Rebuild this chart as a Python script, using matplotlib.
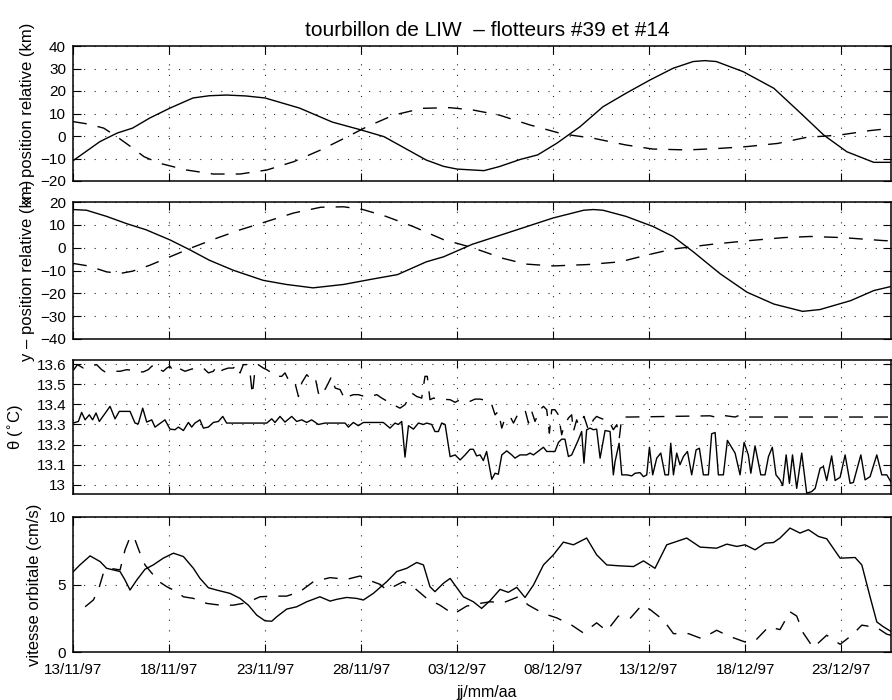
import matplotlib
matplotlib.use('Agg')
import matplotlib.pyplot as plt

plt.rcParams['font.family'] = ['Liberation Sans', 'DejaVu Sans']

# ---- data (days since 13/11/97) ----
date_ticks = [0, 5, 10, 15, 20, 25, 30, 35, 40]
date_labels = ['13/11/97', '18/11/97', '23/11/97', '28/11/97', '03/12/97',
               '08/12/97', '13/12/97', '18/12/97', '23/12/97']

# x relative position (km)
t_x39 = [0, 1.4, 2.3, 3.1, 4.0, 5.05, 6.25, 7.1, 8.0, 9.0, 10, 11.8, 13.5, 15, 16.2, 18.4,
         19.3, 20, 21.4, 22.2, 23.3, 24.2, 25.2, 26.4, 27.6, 28.8, 30.05, 31.25, 32.3, 32.9,
         33.5, 34.9, 36.5, 37.9, 39.1, 40.3, 41.7, 42.6]
x39 = [-11, -2.5, 1.3, 3.5, 8, 12.4, 16.9, 17.9, 18.2, 17.8, 16.9, 12.4, 6.2, 2.7, -0.3,
       -10.7, -13.5, -14.7, -15.4, -13.6, -10.4, -8.4, -3.2, 4.1, 13, 19, 24.9, 30.1, 33.1,
       33.5, 33.1, 28.6, 21.2, 10.1, 0.4, -7, -11.7, -11.7]
t_x14 = [0, 0.8, 1.6, 2.3, 3.0, 3.7, 4.5, 5.9, 7.3, 8.7, 10.1, 11.5, 12.9, 14.3, 15.3, 16.7,
         18.2, 19.6, 20.8, 22.2, 23.8, 25.5, 27.1, 28.8, 30.2, 32, 33.5, 35.1, 36.7, 38.2,
         39.9, 41.5, 42.6]
x14 = [6.4, 5.3, 3.5, -0.4, -4.7, -9.2, -12.1, -15.1, -16.9, -16.9, -15.1, -11.4, -6.2, -0.3,
       4.1, 9.3, 12.3, 12.6, 11.6, 9.3, 4.9, 0.9, -1, -4, -5.8, -6.2, -5.6, -4.7, -3.3, -0.6,
       0.4, 2.4, 3.4]

# y relative position (km)
t_y39 = [0, 0.7, 1.75, 2.8, 3.8, 5.05, 6.1, 7.1, 8.35, 9.9, 11.1, 12.5, 14.1, 15.5, 16.9,
         18.4, 19.3, 20.8, 22.6, 23.4, 25, 26.6, 27.1, 27.6, 28.8, 30.2, 31.25, 32.3, 33.7,
         35.1, 36.5, 38, 38.9, 40.5, 41.7, 42.6]
y39 = [16.7, 16.4, 13.7, 10.5, 7.85, 3.4, -1, -5.5, -9.9, -14.3, -16.1, -17.6, -16.1, -13.9,
       -11.8, -6.2, -4, 1.5, 6.4, 8.6, 13, 16.4, 16.7, 16.4, 13.7, 9.3, 4.9, -1.8, -11.4,
       -19.5, -24.7, -27.9, -27.1, -23.2, -18.8, -17]
t_y14 = [0, 0.8, 1.75, 2.45, 3.1, 4.0, 5.05, 6.25, 7.5, 8.7, 10.1, 11.5, 12.9, 14.1, 15.1,
         16.3, 17.7, 19.3, 20.0, 20.8, 22.4, 23.6, 25, 26.8, 28.5, 29.9, 31.25, 33.3, 35.1,
         37, 38.4, 40.1, 42.2, 42.6]
y14 = [-6.9, -8, -10.6, -11.3, -10.3, -7.7, -4, 0.2, 4.2, 7.8, 11.5, 15.2, 17.7, 17.9, 16.7,
       13.7, 9.3, 3.5, 1.9, 0, -4.7, -7.2, -8, -7.4, -6.2, -3.2, -0.6, 1.5, 3, 4.4, 4.9, 4.4,
       3.1, 3]

# potential temperature (deg C)
t_th39 = [0.0, 0.28, 0.45, 0.63, 0.85, 1.02, 1.20, 1.37, 1.93, 2.19, 2.41, 2.97, 3.23, 3.40,
          3.63, 3.84, 4.10, 4.27, 4.79, 5.05, 5.31, 5.49, 5.75, 6.01, 6.18, 6.35, 6.61, 6.79,
          7.05, 7.31, 7.57, 7.80, 8.00, 10.09, 10.35, 10.52, 10.78, 11.04, 11.39, 11.65,
          11.91, 12.17, 12.43, 12.60, 12.78, 13.12, 14.17, 14.34, 14.60, 14.86, 15.12,
          16.16, 16.51, 16.77, 16.94, 17.12, 17.29, 17.47, 17.73, 17.99, 18.25, 18.42,
          18.68, 18.85, 19.03, 19.20, 19.38, 19.64, 19.90, 20.16, 20.42, 20.68, 20.85,
          21.02, 21.20, 21.37, 21.54, 21.81, 21.98, 22.15, 22.33, 22.59, 22.85, 23.02,
          23.28, 23.63, 23.80, 23.98, 24.32, 24.5, 24.67, 25.1, 25.28, 25.45, 25.62, 25.8,
          25.97, 26.32, 26.49, 26.61, 26.75, 26.93, 27.1, 27.27, 27.45, 27.71, 27.97, 28.14,
          28.23, 28.44, 28.58, 28.84, 29.1, 29.27, 29.53, 29.71, 29.88, 30.02, 30.19, 30.40,
          30.61, 30.83, 31.01, 31.13, 31.27, 31.44, 31.61, 31.79, 32.0, 32.22, 32.45, 32.62,
          32.83, 33.09, 33.26, 33.44, 33.61, 33.87, 34.08, 34.48, 34.74, 34.95, 35.17, 35.3,
          35.52, 35.82, 36.04, 36.22, 36.42, 36.61, 36.82, 36.96, 37.14, 37.31, 37.47, 37.69,
          37.95, 38.21, 38.47, 38.65, 38.91, 39.08, 39.25, 39.51, 39.69, 39.95, 40.21, 40.47,
          40.64, 41.03, 41.25, 41.51, 41.86, 42.12, 42.38, 42.64]
th39 = [13.307, 13.315, 13.36, 13.323, 13.348, 13.323, 13.357, 13.315, 13.39, 13.328, 13.365,
        13.365, 13.307, 13.303, 13.381, 13.312, 13.323, 13.287, 13.323, 13.277, 13.274,
        13.287, 13.27, 13.31, 13.287, 13.307, 13.323, 13.282, 13.287, 13.31, 13.315, 13.34,
        13.307, 13.307, 13.328, 13.31, 13.34, 13.312, 13.34, 13.315, 13.323, 13.31, 13.323,
        13.312, 13.3, 13.307, 13.307, 13.287, 13.31, 13.294, 13.31, 13.31, 13.282, 13.307,
        13.3, 13.315, 13.138, 13.294, 13.277, 13.307, 13.3, 13.307, 13.3, 13.265, 13.265,
        13.307, 13.3, 13.14, 13.149, 13.124, 13.149, 13.177, 13.177, 13.144, 13.149, 13.121,
        13.166, 13.028, 13.058, 13.053, 13.149, 13.169, 13.149, 13.133, 13.149, 13.149,
        13.158, 13.149, 13.174, 13.187, 13.166, 13.166, 13.211, 13.227, 13.227, 13.141,
        13.149, 13.224, 13.265, 13.108, 13.274, 13.282, 13.274, 13.277, 13.133, 13.27,
        13.265, 13.05, 13.116, 13.207, 13.05, 13.05, 13.045, 13.058, 13.061, 13.041, 13.05,
        13.187, 13.05, 13.133, 13.158, 13.05, 13.05, 13.207, 13.05, 13.158, 13.1, 13.141,
        13.166, 13.05, 13.174, 13.182, 13.05, 13.05, 13.254, 13.26, 13.05, 13.05, 13.221,
        13.158, 13.05, 13.211, 13.149, 13.058, 13.194, 13.05, 13.05, 13.141, 13.187, 13.05,
        13.025, 12.997, 13.149, 13.008, 13.149, 12.983, 13.158, 12.959, 12.967, 12.983,
        13.083, 13.091, 13.022, 13.144, 13.022, 13.038, 13.149, 13.008, 13.012, 13.149,
        13.025, 13.041, 13.149, 13.05, 13.05, 13.008]
t_th14 = [0.02, 0.23, 0.54, 0.89, 1.23, 1.49, 1.67, 1.93, 2.19, 2.45, 2.80, 3.06, 3.40, 3.66,
          3.92, 4.10, 4.36, 4.53, 4.70, 4.88, 5.05, 5.23, 5.49, 5.66, 5.83, 6.18, 6.44, 6.79,
          7.05, 7.31, 7.48, 7.66, 7.83, 8.09, 8.35, 8.52, 8.70, 8.87, 9.05, 9.22, 9.34, 9.48,
          9.65, 9.91, 10.09, 10.35, 10.52, 10.69, 10.87, 11.04, 11.30, 11.56, 11.74, 11.91,
          12.17, 12.34, 12.60, 12.78, 12.95, 13.12, 13.30, 13.47, 13.65, 13.91, 14.17, 14.34,
          14.60, 14.86, 15.30, 15.47, 15.82, 16.08, 16.68, 17.03, 17.29, 17.64, 17.90, 18.16,
          18.33, 18.45, 18.59, 18.77, 19.11, 19.64, 19.90, 20.16, 20.68, 20.94, 21.20, 21.72,
          21.81, 21.98, 22.15, 22.33, 22.50, 22.76, 22.94, 23.11, 23.37, 23.54, 23.72, 23.89,
          24.06, 24.32, 24.5, 24.67, 24.81, 24.93, 25.10, 25.28, 25.45, 25.54, 25.80, 25.97,
          26.06, 26.23, 26.32, 26.41, 26.61, 26.84, 27.10, 27.27, 27.45, 27.71, 27.88, 28.14,
          28.32, 28.45, 28.58, 29.01, 33.18, 33.44, 33.70, 34.48, 34.74, 35.0, 42.64]
th14 = [13.569, 13.597, 13.58, 13.589, 13.597, 13.572, 13.561, 13.564, 13.564, 13.564,
        13.572, 13.569, 13.561, 13.561, 13.572, 13.589, 13.597, 13.572, 13.564, 13.58,
        13.589, 13.564, 13.58, 13.572, 13.564, 13.575, 13.58, 13.58, 13.556, 13.564, 13.589,
        13.564, 13.572, 13.58, 13.58, 13.597, 13.556, 13.597, 13.597, 13.556, 13.448, 13.572,
        13.597, 13.58, 13.572, 13.556, 13.556, 13.539, 13.539, 13.556, 13.506, 13.506,
        13.439, 13.506, 13.547, 13.531, 13.539, 13.456, 13.439, 13.473, 13.506, 13.539,
        13.481, 13.473, 13.423, 13.439, 13.448, 13.448, 13.436, 13.439, 13.448, 13.431,
        13.398, 13.381, 13.398, 13.456, 13.439, 13.431, 13.539, 13.539, 13.423, 13.431,
        13.426, 13.423, 13.41, 13.423, 13.415, 13.426, 13.426, 13.415, 13.398, 13.348,
        13.365, 13.282, 13.332, 13.34, 13.307, 13.34, 13.365, 13.373, 13.307, 13.365, 13.315,
        13.373, 13.39, 13.373, 13.257, 13.373, 13.373, 13.348, 13.249, 13.282, 13.332,
        13.348, 13.265, 13.323, 13.299, 13.299, 13.34, 13.274, 13.323, 13.34, 13.332, 13.323,
        13.323, 13.274, 13.299, 13.232, 13.337, 13.337, 13.343, 13.337, 13.347, 13.337,
        13.347, 13.337, 13.337]

# orbital velocity (cm/s)
t_v39 = [0.02, 0.36, 0.89, 1.41, 1.75, 2.10, 2.45, 2.71, 2.97, 3.32, 3.75, 4.18, 4.70, 5.23,
         5.75, 6.27, 6.61, 7.05, 7.48, 8.18, 8.70, 9.13, 9.57, 10.0, 10.35, 10.61, 11.13,
         11.65, 12.17, 12.86, 13.39, 13.73, 14.25, 14.77, 15.12, 15.64, 16.34, 16.86, 17.38,
         17.90, 18.25, 18.59, 18.85, 19.29, 19.64, 20.33, 20.85, 21.28, 21.72, 22.24, 22.67,
         23.11, 23.54, 23.98, 24.5, 25.02, 25.54, 26.06, 26.75, 27.27, 27.80, 28.49, 29.19,
         29.71, 30.31, 30.92, 31.96, 32.66, 33.52, 34.05, 34.57, 35.0, 35.52, 36.04, 36.48,
         36.82, 37.34, 37.86, 38.30, 38.82, 39.25, 39.95, 40.73, 41.08, 41.51, 41.86, 42.21,
         42.64]
v39 = [5.96, 6.45, 7.12, 6.70, 6.20, 6.08, 5.96, 5.33, 4.59, 5.33, 6.13, 6.45, 6.95, 7.32,
       7.07, 6.20, 5.46, 4.76, 4.59, 4.34, 3.97, 3.47, 2.73, 2.31, 2.28, 2.61, 3.18, 3.35,
       3.72, 4.09, 3.77, 3.90, 4.04, 3.97, 3.85, 4.34, 5.21, 5.96, 6.20, 6.63, 6.45, 4.84,
       4.47, 5.09, 5.45, 4.09, 3.72, 3.23, 3.80, 4.64, 4.42, 4.79, 4.04, 4.96, 6.45, 7.20,
       8.14, 7.94, 8.44, 7.20, 6.45, 6.38, 6.33, 6.75, 6.20, 7.94, 8.44, 7.77, 7.69, 7.99,
       7.82, 7.94, 7.57, 8.06, 8.11, 8.44, 9.18, 8.81, 9.06, 8.56, 8.39, 6.95, 7.00, 6.45,
       4.09, 2.23, 1.86, 1.49]
t_v14 = [0.63, 1.06, 1.32, 1.58, 1.93, 2.45, 2.71, 3.00, 3.23, 3.49, 3.75, 4.18, 4.36, 4.88,
         5.40, 5.75, 6.27, 6.96, 7.66, 8.35, 9.05, 9.74, 10.43, 11.13, 11.82, 12.52, 13.39,
         14.25, 14.95, 15.47, 15.99, 16.34, 17.20, 17.81, 18.42, 19.11, 19.81, 20.50, 21.20,
         21.72, 22.41, 23.19, 23.72, 24.50, 25.19, 25.97, 26.58, 27.27, 27.80, 28.40, 29.01,
         29.62, 30.05, 30.75, 31.27, 32.05, 32.74, 33.52, 34.13, 35.0, 35.52, 36.22, 36.82,
         37.34, 37.69, 38.03, 38.55, 39.25, 39.95, 40.56, 41.08, 41.86, 42.38, 42.64]
v14 = [3.35, 3.85, 4.59, 5.83, 6.20, 6.08, 7.57, 8.61, 8.31, 7.32, 6.45, 5.71, 5.33, 4.84,
       4.47, 4.09, 3.97, 3.60, 3.47, 3.47, 3.65, 4.09, 4.14, 4.14, 4.47, 5.21, 5.51, 5.38,
       5.63, 5.29, 5.01, 4.59, 5.21, 4.71, 3.97, 3.47, 2.80, 3.40, 3.60, 3.72, 3.65, 4.09,
       3.47, 2.85, 2.53, 1.99, 1.41, 2.16, 1.56, 2.66, 2.48, 3.47, 3.15, 2.36, 1.36, 1.36,
       0.99, 1.61, 1.19, 0.74, 0.82, 1.86, 1.66, 2.98, 2.66, 1.41, 0.32, 1.24, 0.57, 1.24,
       1.99, 1.81, 1.32, 1.22]

# ---- figure ----
W, H = 892, 700
fig = plt.figure(figsize=(W / 100, H / 100), dpi=100)

left = 73 / W
width = 818 / W
rects = [(181, 135), (339, 137), (494, 134), (652, 135)]  # (bottom px, height px)

solid_kw = dict(color='k', lw=1.0, solid_joinstyle='round')
dash_kw = dict(color='k', lw=1.0, linestyle=(0, (10, 8)))

panels = [
    dict(series=[(t_x39, x39), (t_x14, x14)], ylim=(-20, 40), yticks=[-20, -10, 0, 10, 20, 30, 40],
         ylabels=None, label='x \u2013 position relative (km)', lx=-0.047),
    dict(series=[(t_y39, y39), (t_y14, y14)], ylim=(-40, 20), yticks=[-40, -30, -20, -10, 0, 10, 20],
         ylabels=None, label='y \u2013 position relative (km)', lx=-0.047),
    dict(series=[(t_th39, th39), (t_th14, th14)], ylim=(12.955, 13.62),
         yticks=[13.0, 13.1, 13.2, 13.3, 13.4, 13.5, 13.6],
         ylabels=['13', '13.1', '13.2', '13.3', '13.4', '13.5', '13.6'],
         label='\u03b8 ($^{\\circ}$C)', lx=-0.057),
    dict(series=[(t_v39, v39), (t_v14, v14)], ylim=(0, 10), yticks=[0, 5, 10],
         ylabels=None, label='vitesse orbitale (cm/s)', lx=-0.038),
]

axes = []
for i, (p, (bpx, hpx)) in enumerate(zip(panels, rects)):
    ax = fig.add_axes([left, (H - bpx) / H, width, hpx / H])
    (ts, vs), (td, vd) = p['series']
    ax.plot(ts, vs, **solid_kw)
    ax.plot(td, vd, **dash_kw)
    ax.set_xlim(0, 42.6)
    ax.set_ylim(*p['ylim'])
    ax.set_yticks(p['yticks'])
    if p['ylabels'] is not None:
        ax.set_yticklabels(p['ylabels'])
    ax.set_xticks(date_ticks)
    if i == 3:
        ax.set_xticklabels(date_labels)
    else:
        ax.set_xticklabels([])
    ax.tick_params(direction='in', top=True, right=True, length=5.5, width=0.8,
                   labelsize=11, colors='k')
    ax.tick_params(axis='x', pad=8)
    ax.tick_params(axis='y', pad=5)
    ax.grid(True, color='0.15', linestyle=(0, (1, 8.5)), lw=0.8)
    for s in ax.spines.values():
        s.set_linewidth(1.1)
    ax.set_ylabel(p['label'], fontsize=12)
    ax.yaxis.set_label_coords(p['lx'], 0.5)
    axes.append(ax)

fig.text(487.5 / W, 1 - 30 / H, 'tourbillon de LIW  \u2013 flotteurs #39 et #14',
         ha='center', va='center', fontsize=15)
fig.text(487 / W, 1 - 693 / H, 'jj/mm/aa', ha='center', va='center', fontsize=11.5)

fig.savefig('out.png', dpi=100)
